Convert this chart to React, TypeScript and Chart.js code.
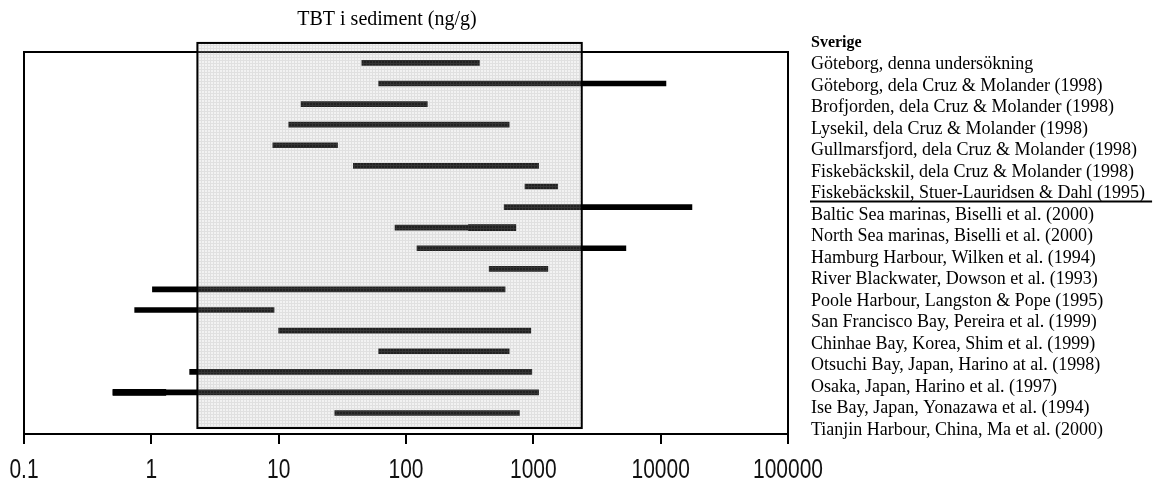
import React, { useEffect, useRef } from "react";
import { Chart, registerables } from "chart.js";

Chart.register(...registerables);

const chartTitle = "TBT i sediment (ng/g)";
const legendHeader = "Sverige";
const siteLabels = [
  "Göteborg, denna undersökning",
  "Göteborg, dela Cruz & Molander (1998)",
  "Brofjorden, dela Cruz & Molander (1998)",
  "Lysekil, dela Cruz & Molander (1998)",
  "Gullmarsfjord, dela Cruz & Molander (1998)",
  "Fiskebäckskil, dela Cruz & Molander (1998)",
  "Fiskebäckskil, Stuer-Lauridsen & Dahl (1995)",
  "Baltic Sea marinas, Biselli et al. (2000)",
  "North Sea marinas, Biselli et al. (2000)",
  "Hamburg Harbour, Wilken et al. (1994)",
  "River Blackwater, Dowson et al. (1993)",
  "Poole Harbour, Langston & Pope (1995)",
  "San Francisco Bay, Pereira et al. (1999)",
  "Chinhae Bay, Korea, Shim et al. (1999)",
  "Otsuchi Bay, Japan, Harino at al. (1998)",
  "Osaka, Japan, Harino et al. (1997)",
  "Ise Bay, Japan, Yonazawa et al. (1994)",
  "Tianjin Harbour, China, Ma et al. (2000)",
];
const lowValues = [45, 61, 15, 12, 9, 38.6, 860, 590, 82, 122, 450, 1.02, 0.74, 10, 61, 2.0, 0.5, 27.6];
const highValues = [377, 11000, 147, 646, 29, 1100, 1550, 17600, 728, 5330, 1300, 600, 9.2, 955, 646, 973, 1100, 778];
const extraRows = [8, 16];
const extraLow = [309, 0.5];
const extraHigh = [728, 1.3];
const tickValues = [0.1, 1, 10, 100, 1000, 10000, 100000];
const tickLabels = ["0.1", "1", "10", "100", "1000", "10000", "100000"];
const referenceRange = [2.3, 2400];
const referenceRows = [-0.97, 17.73];
const underlinedSite = 6;

const SERIF = '"Liberation Serif", "Times New Roman", serif';
const SANS = '"Liberation Sans", Arial, sans-serif';

function makeShadePattern(ctx: CanvasRenderingContext2D) {
  const c = document.createElement("canvas");
  c.width = 3;
  c.height = 3;
  const p = c.getContext("2d")!;
  p.fillStyle = "rgba(185,185,185,0.18)";
  p.fillRect(0, 0, 3, 3);
  p.clearRect(0, 0, 3, 1);
  p.clearRect(0, 0, 1, 3);
  p.fillStyle = "rgba(160,160,160,0.32)";
  p.fillRect(0, 0, 3, 1);
  p.fillRect(0, 1, 1, 2);
  return ctx.createPattern(c, "repeat") || "rgba(185,185,185,0.27)";
}

const overlayPlugin = {
  id: "overlayPlugin",
  beforeDatasetsDraw(chart: any) {
    const { ctx, chartArea: a } = chart;
    ctx.save();
    ctx.strokeStyle = "#000";
    ctx.lineWidth = 2;
    ctx.strokeRect(a.left, a.top, a.right - a.left, a.bottom - a.top);
    ctx.restore();
  },
  afterDatasetsDraw(chart: any) {
    const { ctx } = chart;
    const xs = chart.scales.x;
    const ys = chart.scales.y;
    const x0 = xs.getPixelForValue(referenceRange[0]);
    const x1 = xs.getPixelForValue(referenceRange[1]);
    const y0 = ys.getPixelForValue(referenceRows[0]);
    const y1 = ys.getPixelForValue(referenceRows[1]);
    ctx.save();
    ctx.fillStyle = makeShadePattern(ctx);
    ctx.fillRect(x0, y0, x1 - x0, y1 - y0);
    ctx.strokeStyle = "#000";
    ctx.lineWidth = 2;
    ctx.strokeRect(x0, y0, x1 - x0, y1 - y0);
    ctx.restore();
  },
  afterDraw(chart: any) {
    const { ctx, chartArea: a } = chart;
    const xs = chart.scales.x;
    ctx.save();
    ctx.fillStyle = "#000";
    ctx.textAlign = "center";
    ctx.textBaseline = "alphabetic";
    ctx.font = `20px ${SERIF}`;
    ctx.fillText(chartTitle, 387, 25);

    // x-axis tick labels (tall, narrow style of the original)
    ctx.font = `21px ${SANS}`;
    ctx.textBaseline = "middle";
    ctx.fillStyle = "#111";
    xs.ticks.forEach((t: any) => {
      const idx = tickValues.findIndex((v) => Math.abs(v - t.value) < 1e-9 * Math.max(1, v));
      if (idx < 0) return;
      const px = xs.getPixelForValue(t.value);
      ctx.save();
      ctx.translate(px, xs.bottom - 12);
      ctx.scale(1, 1.35);
      ctx.fillText(tickLabels[idx], 0, 0);
      ctx.restore();
    });

    ctx.fillStyle = "#000";
    const lx = a.right + 23;
    const top = 43;
    const step = 21.5;
    ctx.textAlign = "left";
    ctx.textBaseline = "middle";
    ctx.font = `bold 16px ${SERIF}`;
    ctx.fillText(legendHeader, lx, top);
    ctx.font = `18px ${SERIF}`;
    siteLabels.forEach((s, i) => {
      const y = top + (i + 1) * step;
      ctx.fillText(s, lx, y);
      if (i === underlinedSite) {
        const w = ctx.measureText(s).width;
        ctx.fillRect(lx - 1, y + 7, w + 8, 2);
      }
    });
    ctx.restore();
  },
};

export default function App() {
  const ref = useRef<HTMLCanvasElement | null>(null);
  useEffect(() => {
    if (!ref.current) return;
    const mainData = siteLabels.map((_, i) => ({ x: [lowValues[i], highValues[i]], y: i }));
    const extraData = extraRows.map((r, i) => ({ x: [extraLow[i], extraHigh[i]], y: r }));
    const chart = new Chart(ref.current, {
      type: "bar",
      data: {
        datasets: [
          {
            label: "TBT",
            data: mainData as any,
            backgroundColor: "#000",
            borderWidth: 0,
            barThickness: 5,
            grouped: false,
          } as any,
          {
            label: "TBT extra",
            data: extraData as any,
            backgroundColor: "#000",
            borderWidth: 0,
            barThickness: 6,
            grouped: false,
          } as any,
        ],
      },
      options: {
        indexAxis: "y",
        animation: false,
        responsive: false,
        devicePixelRatio: 1,
        layout: { padding: { left: 24, right: 384, top: 52, bottom: 6 } },
        plugins: {
          legend: { display: false },
          title: { display: false },
          tooltip: { enabled: false },
        },
        scales: {
          x: {
            type: "logarithmic",
            min: 0.1,
            max: 100000,
            afterBuildTicks: (axis: any) => {
              axis.ticks = tickValues.map((v) => ({ value: v }));
            },
            afterFit: (axis: any) => {
              axis.height = 48;
            },
            ticks: { display: false, autoSkip: false, maxRotation: 0 },
            grid: {
              display: true,
              drawOnChartArea: false,
              drawTicks: true,
              tickLength: 10,
              color: "#000",
              lineWidth: 2,
            },
            border: { display: true, color: "#000", width: 2 },
          },
          y: {
            type: "linear",
            reverse: true,
            offset: false,
            min: -0.53,
            max: 18.02,
            display: false,
          },
        },
      },
      plugins: [overlayPlugin],
    } as any);
    return () => chart.destroy();
  }, []);
  return (
    <div style={{ position: "fixed", left: 0, top: 0, width: 1172, height: 488, background: "#fff" }}>
      <canvas ref={ref} width={1172} height={488} style={{ width: 1172, height: 488, display: "block" }} />
    </div>
  );
}
